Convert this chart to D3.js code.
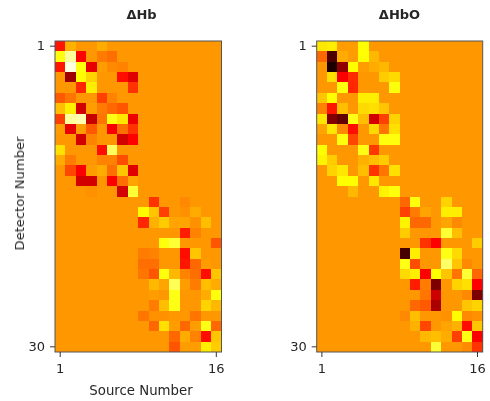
<!DOCTYPE html>
<html><head><meta charset="utf-8">
<script src="https://cdn.jsdelivr.net/npm/d3@7"></script>
<style>html,body{margin:0;padding:0;background:#fff}svg{display:block}text{font-family:"DejaVu Sans",sans-serif;fill:#262626}</style>
</head><body><svg id="c" width="490" height="401"></svg>
<script>
const sources=d3.range(1,17), detectors=d3.range(1,31);
const tickX=[1,16], tickY=[1,30];
const titles=["ΔHb","ΔHbO"];
// sparse non-background cells: one object per detector row, {col:value} on the colour scale, 0-100
const background=59;
const hbCells=[
{0:40,1:63,4:62},{0:76,1:90,2:37,4:55,5:53},{0:40,1:97,2:76,3:33,4:60,5:57,6:56},{1:22,2:74,3:68,6:38,7:32},
{2:42,3:72,7:44},{0:50,1:54,4:46,5:56},{0:65,1:72,2:30,3:60,4:55,5:52,6:49},{0:46,1:90,2:92,3:28,4:54,5:77,6:71,7:34},
{0:60,1:33,2:60,3:50,5:36,6:53,7:44},{2:30,3:56,6:30,7:37},{0:70,4:38,5:84},{0:62,1:55,4:56,5:56,6:48},
{1:47,2:36,3:60,4:62,5:53,6:66,7:32},{2:30,3:30,5:36,6:53,7:61},{3:58,6:30,7:80},{9:44,12:57},
{8:74,9:66,10:46,12:58,13:62},{8:42,9:63,10:67,11:61,12:61,13:58,14:65},{12:41,13:56},{10:76,11:80,15:49},
{8:55,9:56,12:38,13:66},{8:53,9:53,12:40,13:52,14:60},{8:54,9:49,10:76,11:64,12:56,13:53,14:38,15:66},{9:64,10:61,11:83,12:60,13:55,14:65,15:62},
{9:60,11:77,14:62,15:76},{9:55,10:65,11:77,14:68,15:64},{8:54,9:58,10:58,13:54},{9:52,10:70,11:60,12:52,13:60,14:77,15:52},
{11:52,12:62,13:56,14:38,15:66},{11:49,12:60,13:60,14:72,15:67}];
const hboCells=[
{0:71,1:72,2:60,3:60,4:75},{0:52,1:10,2:62,3:60,4:75,5:64},{1:3,2:20,3:75,4:60,5:62,6:64},{1:70,2:36,3:43,6:67,7:69},
{2:76,3:42,7:76},{0:66,1:75,4:72,5:72},{0:56,1:40,2:65,4:69,5:70,6:66},{0:71,1:18,2:13,3:77,4:65,5:30,6:46,7:68},
{0:61,1:71,2:57,3:38,5:69,6:54,7:70},{2:76,3:47,6:76,7:76},{0:75,4:77,5:45},{0:73,1:67,4:63,5:65,6:67},
{1:68,2:71,4:65,5:44,6:54,7:70},{2:75,3:75,5:71},{3:64,6:73,7:76},{8:52,9:76,12:68},
{8:46,9:55,10:61,12:72,13:72},{8:73,9:52,10:52,12:61,13:57},{8:67,12:80,13:65},{10:44,11:37,15:67},
{8:9,9:72,12:77,13:69},{8:77,9:48,12:85,13:66,14:57},{8:69,9:72,10:37,11:75,12:66,13:54,14:80,15:52},{9:41,10:55,11:17,13:68,14:70,15:37},
{10:54,11:29,14:57,15:17},{9:52,10:50,11:24,14:66,15:68},{8:57,9:65,12:58,13:74,14:57,15:58},{9:63,10:47,12:61,13:63,14:38,15:66},
{10:64,11:65,12:62,13:46,14:77,15:36},{11:80,14:57,15:44}];

const hot=d3.scaleLinear().domain([0,36.5,74.6,100]).range(["#0a0000","#ff0000","#ffff00","#ffffff"]);
const svg=d3.select("#c");
const defs=svg.append("defs");
defs.append("filter").attr("id","soft").attr("x","-5%").attr("y","-5%").attr("width","110%").attr("height","110%")
  .append("feGaussianBlur").attr("stdDeviation",0.6);
defs.append("filter").attr("id","softText").attr("x","-10%").attr("y","-10%").attr("width","120%").attr("height","120%")
  .append("feGaussianBlur").attr("stdDeviation",0.3);
const panels=[{cells:hbCells,title:titles[0],x0:55,x1:221.5,tx:141.5},{cells:hboCells,title:titles[1],x0:316.7,x1:482.7,tx:399.5}];
const y0=41,y1=352;
panels.forEach((p,i)=>{
  const x=d3.scaleBand().domain(sources).range([p.x0,p.x1]);
  const y=d3.scaleBand().domain(detectors).range([y0,y1]);
  const g=svg.append("g");
  const rows=detectors.flatMap((d,r)=>sources.map((s,c)=>({s,d,v:p.cells[r][c]??background})));
  const img=g.append("g").attr("filter","url(#soft)");
  img.append("rect").attr("x",p.x0).attr("y",y0).attr("width",p.x1-p.x0).attr("height",y1-y0).attr("fill",hot(background));
  img.selectAll(".cell").data(rows.filter(d=>d.v!==background)).join("rect").attr("class","cell")
    .attr("shape-rendering","crispEdges")
    .attr("x",d=>x(d.s)).attr("y",d=>y(d.d)).attr("width",x.bandwidth()).attr("height",y.bandwidth())
    .attr("fill",d=>hot(d.v));
  g.append("rect").attr("x",p.x0).attr("y",y0).attr("width",p.x1-p.x0).attr("height",y1-y0)
    .attr("fill","none").attr("stroke","#555").attr("stroke-width",1);
  const t=g.append("g").attr("filter","url(#softText)");
  const ax=t.append("g").attr("transform",`translate(0,${y1})`).call(d3.axisBottom(x).tickValues(tickX).tickSize(5).tickPadding(7).tickSizeOuter(0));
  const ay=t.append("g").attr("transform",`translate(${p.x0},0)`).call(d3.axisLeft(y).tickValues(tickY).tickSize(5).tickPadding(5).tickSizeOuter(0));
  [ax,ay].forEach(a=>{a.select(".domain").remove();a.selectAll("line").attr("stroke","#333");a.selectAll("text").attr("font-size",13).style("fill","#262626");});
  t.append("text").attr("x",p.tx).attr("y",19).attr("text-anchor","middle").attr("font-size",13).attr("font-weight","bold").text(p.title);
});
const labels=svg.append("g").attr("filter","url(#softText)");
labels.append("text").attr("x",141).attr("y",395).attr("text-anchor","middle").attr("font-size",13.3).text("Source Number");
labels.append("text").attr("transform","translate(24,193.5) rotate(-90)").attr("text-anchor","middle").attr("font-size",13.1).text("Detector Number");
</script></body></html>
